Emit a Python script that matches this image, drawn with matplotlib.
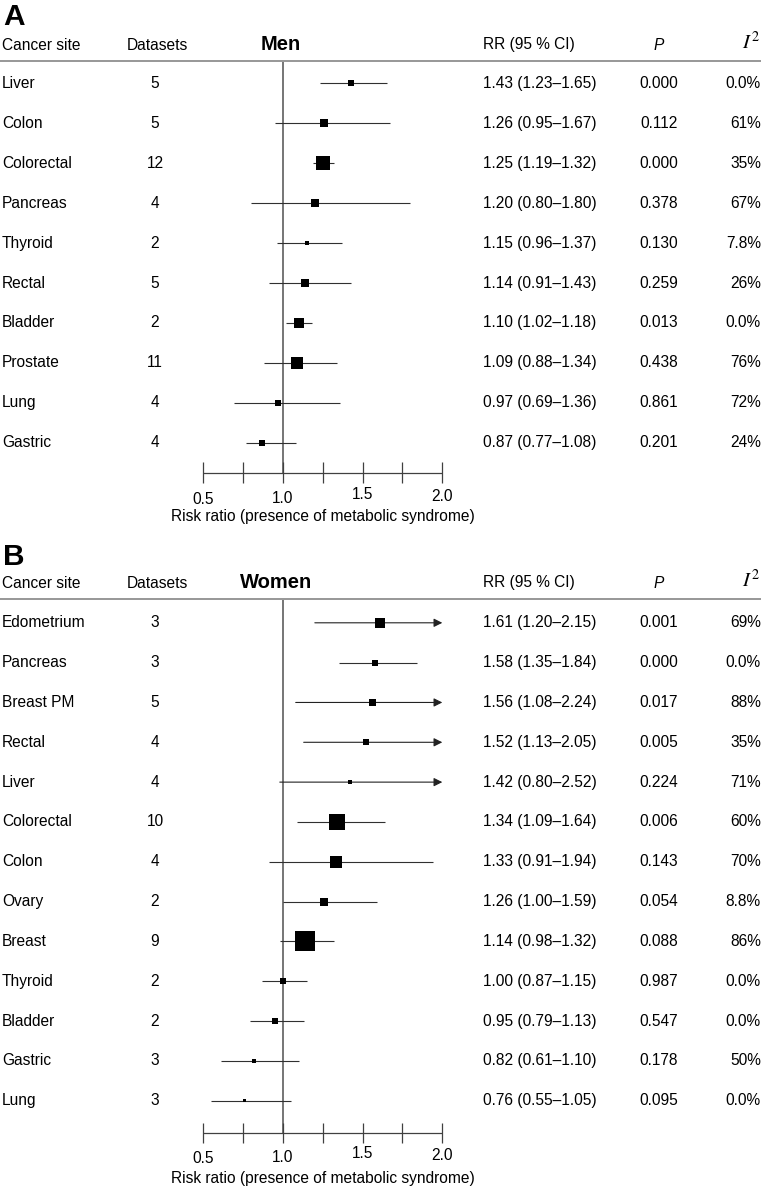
import matplotlib
matplotlib.use('Agg')
import matplotlib.pyplot as plt

plt.rcParams['font.family'] = ['Liberation Sans', 'DejaVu Sans']
plt.rcParams['mathtext.fontset'] = 'stix'

# ---------------- data ----------------
men_sites = ['Liver', 'Colon', 'Colorectal', 'Pancreas', 'Thyroid', 'Rectal',
             'Bladder', 'Prostate', 'Lung', 'Gastric']
men_datasets = [5, 5, 12, 4, 2, 5, 2, 11, 4, 4]
men_rr = [1.43, 1.26, 1.25, 1.20, 1.15, 1.14, 1.10, 1.09, 0.97, 0.87]
men_lo = [1.23, 0.95, 1.19, 0.80, 0.96, 0.91, 1.02, 0.88, 0.69, 0.77]
men_hi = [1.65, 1.67, 1.32, 1.80, 1.37, 1.43, 1.18, 1.34, 1.36, 1.08]
men_rr_text = ['1.43 (1.23–1.65)', '1.26 (0.95–1.67)', '1.25 (1.19–1.32)',
               '1.20 (0.80–1.80)', '1.15 (0.96–1.37)', '1.14 (0.91–1.43)',
               '1.10 (1.02–1.18)', '1.09 (0.88–1.34)', '0.97 (0.69–1.36)',
               '0.87 (0.77–1.08)']
men_p = ['0.000', '0.112', '0.000', '0.378', '0.130', '0.259', '0.013',
         '0.438', '0.861', '0.201']
men_i2 = ['0.0%', '61%', '35%', '67%', '7.8%', '26%', '0.0%', '76%', '72%', '24%']
men_weight_px = [6, 8, 14, 8, 4, 8, 10, 12, 6, 6]

women_sites = ['Edometrium', 'Pancreas', 'Breast PM', 'Rectal', 'Liver',
               'Colorectal', 'Colon', 'Ovary', 'Breast', 'Thyroid', 'Bladder',
               'Gastric', 'Lung']
women_datasets = [3, 3, 5, 4, 4, 10, 4, 2, 9, 2, 2, 3, 3]
women_rr = [1.61, 1.58, 1.56, 1.52, 1.42, 1.34, 1.33, 1.26, 1.14, 1.00, 0.95,
            0.82, 0.76]
women_lo = [1.20, 1.35, 1.08, 1.13, 0.98, 1.09, 0.91, 1.00, 0.98, 0.87, 0.79,
            0.61, 0.55]
women_hi = [2.15, 1.84, 2.24, 2.05, 2.52, 1.64, 1.94, 1.59, 1.32, 1.15, 1.13,
            1.10, 1.05]
women_rr_text = ['1.61 (1.20–2.15)', '1.58 (1.35–1.84)', '1.56 (1.08–2.24)',
                 '1.52 (1.13–2.05)', '1.42 (0.80–2.52)', '1.34 (1.09–1.64)',
                 '1.33 (0.91–1.94)', '1.26 (1.00–1.59)', '1.14 (0.98–1.32)',
                 '1.00 (0.87–1.15)', '0.95 (0.79–1.13)', '0.82 (0.61–1.10)',
                 '0.76 (0.55–1.05)']
women_p = ['0.001', '0.000', '0.017', '0.005', '0.224', '0.006', '0.143',
           '0.054', '0.088', '0.987', '0.547', '0.178', '0.095']
women_i2 = ['69%', '0.0%', '88%', '35%', '71%', '60%', '70%', '8.8%', '86%',
            '0.0%', '0.0%', '50%', '0.0%']
women_weight_px = [10, 6, 7, 6, 4, 16, 12, 8, 20, 6, 6, 4, 3]

tick_values = [0.5, 0.75, 1.0, 1.25, 1.5, 1.75, 2.0]
tick_labels = {0.5: '0.5', 1.0: '1.0', 1.5: '1.5', 2.0: '2.0'}
x_max = 2.0
xlabel = 'Risk ratio (presence of metabolic syndrome)'

# ---------------- layout ----------------
W, H = 763, 1192
fig = plt.figure(figsize=(W / 100, H / 100), dpi=100)
FS = 11.2


def px2rr(px):
    return 0.5 + (px - 203.3) * 1.5 / (442.3 - 203.3)


def draw_panel(top, bot, row0, dy, letter, letter_base, title, title_x,
               head_base, line_y, axis_y, tick_base, tick_offsets, xlab_base,
               sites, nsets, rr, lo, hi, rr_text, pvals, i2, wpx):
    ax = fig.add_axes([0, 1 - bot / H, 1, (bot - top) / H])
    ax.set_xlim(px2rr(0), px2rr(W))
    ax.set_ylim((bot - row0) / dy, (top - row0) / dy)
    ax.axis('off')

    def Y(py):
        return (py - row0) / dy

    # panel letter
    ax.text(px2rr(3), Y(letter_base), letter, fontsize=21.5, fontweight='bold',
            ha='left', va='baseline')
    # headers
    ax.text(px2rr(2), Y(head_base), 'Cancer site', fontsize=FS, ha='left', va='baseline')
    ax.text(px2rr(157), Y(head_base), 'Datasets', fontsize=FS, ha='center', va='baseline')
    ax.text(px2rr(title_x), Y(head_base), title, fontsize=14.5, fontweight='bold',
            ha='center', va='baseline')
    ax.text(px2rr(483), Y(head_base), 'RR (95 % CI)', fontsize=FS, ha='left', va='baseline')
    ax.text(px2rr(659), Y(head_base), 'P', fontsize=FS, ha='center', va='baseline',
            fontstyle='italic')
    ax.text(px2rr(760), Y(head_base), r'$I^2$', fontsize=FS + 3.5, ha='right',
            va='baseline')

    # header line
    ax.plot([px2rr(0), px2rr(761)], [Y(line_y)] * 2, color='#7a7a7a', lw=1.1,
            solid_capstyle='butt')
    # reference line at 1.0
    ax.plot([1.0, 1.0], [Y(line_y + 1), Y(axis_y)], color='#505050', lw=1.1,
            solid_capstyle='butt')

    n = len(sites)
    rows = list(range(n))
    for i in rows:
        tb = i + 4.5 / dy
        ax.text(px2rr(2), tb, sites[i], fontsize=FS, ha='left', va='baseline')
        ax.text(px2rr(155), tb, str(nsets[i]), fontsize=FS, ha='center', va='baseline')
        ax.text(px2rr(483), tb, rr_text[i], fontsize=FS, ha='left', va='baseline')
        ax.text(px2rr(659), tb, pvals[i], fontsize=FS, ha='center', va='baseline')
        ax.text(px2rr(761), tb, i2[i], fontsize=FS, ha='right', va='baseline')
        if hi[i] > x_max:
            ax.annotate('', xy=(x_max, i), xytext=(lo[i], i),
                        arrowprops=dict(arrowstyle='-|>', mutation_scale=12.6,
                                        lw=0.8, color='#222222',
                                        shrinkA=0, shrinkB=0), zorder=2)
        else:
            ax.plot([lo[i], hi[i]], [i, i], color='#303030', lw=0.8, zorder=2,
                    solid_capstyle='butt')
    ax.scatter(rr, rows, marker='s', s=[(w * 0.72) ** 2 for w in wpx],
               color='black', linewidths=0, zorder=3)

    # x axis
    ax.plot([0.5, x_max], [Y(axis_y)] * 2, color='#404040', lw=0.9,
            solid_capstyle='butt')
    ax.vlines(tick_values, Y(axis_y - 10.6), Y(axis_y + 10), color='#404040', lw=0.9)
    for k, (v, lab) in enumerate(tick_labels.items()):
        ax.text(v, Y(tick_base + tick_offsets[k]), lab, fontsize=FS, ha='center',
                va='center')
    ax.text(px2rr(323), Y(xlab_base), xlabel, fontsize=FS, ha='center', va='baseline')
    return ax


draw_panel(top=0, bot=532, row0=83.4, dy=39.92, letter='A', letter_base=25,
           title='Men', title_x=281, head_base=49.5, line_y=61, axis_y=473,
           tick_base=497, tick_offsets=[2.5, 1, -3, -1], xlab_base=521,
           sites=men_sites, nsets=men_datasets, rr=men_rr, lo=men_lo, hi=men_hi,
           rr_text=men_rr_text, pvals=men_p, i2=men_i2, wpx=men_weight_px)

draw_panel(top=532, bot=H, row0=622.8, dy=39.83, letter='B', letter_base=565,
           title='Women', title_x=276, head_base=587.5, line_y=599, axis_y=1133.3,
           tick_base=1156, tick_offsets=[2.5, 1, -3, -1], xlab_base=1183,
           sites=women_sites, nsets=women_datasets, rr=women_rr, lo=women_lo,
           hi=women_hi, rr_text=women_rr_text, pvals=women_p, i2=women_i2,
           wpx=women_weight_px)

fig.savefig('out.png', dpi=100)
